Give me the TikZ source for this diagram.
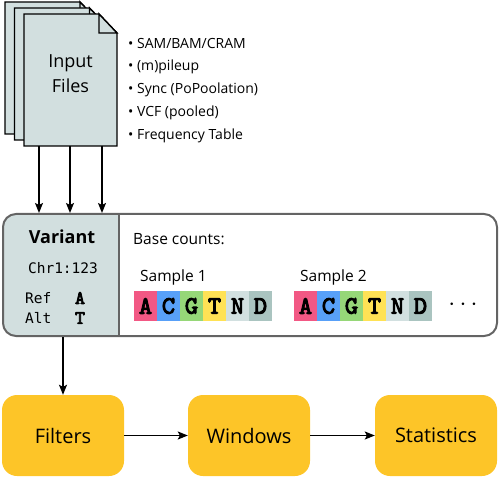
\documentclass[tikz,border=0pt]{standalone}
\usepackage{fontspec}
\setmainfont{Open Sans}
\setmonofont{DejaVu Sans Mono}
\newfontfamily\slabmono{lmmono10-regular.otf}[FakeBold=4]
\usetikzlibrary{arrows.meta}
\definecolor{pagefill}{RGB}{210,223,223}
\definecolor{boxedge}{RGB}{100,100,100}
\definecolor{goldbox}{RGB}{253,197,40}
\definecolor{cA}{RGB}{242,88,132}
\definecolor{cC}{RGB}{88,160,248}
\definecolor{cG}{RGB}{150,215,120}
\definecolor{cT}{RGB}{255,226,85}
\definecolor{cN}{RGB}{210,224,224}
\definecolor{cD}{RGB}{170,196,192}
\begin{document}
\begin{tikzpicture}[x=1pt,y=-1pt,
  pageshape/.style={draw=black,line width=1.4pt,fill=pagefill,line join=miter},
  arr/.style={line width=1.3pt,-{Stealth[length=10pt,width=8pt,inset=2pt]}},
  stage/.style={fill=goldbox,rounded corners=15pt,minimum width=122pt,minimum height=81pt,inner sep=0pt,font=\fontsize{20}{22}\selectfont},
  bullet/.style={anchor=west,inner sep=0pt,font=\fontsize{14}{15}\selectfont},
  cell/.style={minimum width=23pt,minimum height=30pt,inner sep=0pt,font=\slabmono\fontsize{25}{25}\selectfont},
  mono/.style={inner sep=0pt,font=\ttfamily\fontsize{14.5}{16}\selectfont}
]
\useasboundingbox (0,0) rectangle (500,478);
% stacked pages
\foreach \ox/\oy in {5/2,14.5/8,24/14}{
  \path[pageshape] (\ox,\oy) -- ++(75,0) -- ++(18,19) -- ++(0,113) -- ++(-93,0) -- cycle;
  \path[pageshape] (\ox+75,\oy) -- ++(0,19) -- ++(18,0) -- cycle;
}
\node[align=center,inner sep=0pt,font=\fontsize{18}{25}\selectfont] (files) at (70.5,74) {Input\\Files};
\coordinate (f1) at (39,146);
\coordinate (f2) at (70,146);
\coordinate (f3) at (102,146);
% bullets
\node[bullet] (b1) at (128,44) {• SAM/BAM/CRAM};
\node[bullet] (b2) at (128,67) {• (m)pileup};
\node[bullet] (b3) at (128,90) {• Sync (PoPoolation)};
\node[bullet] (b4) at (128,113) {• VCF (pooled)};
\node[bullet] (b5) at (128,136) {• Frequency Table};
% variant box
\begin{scope}
  \clip (0,210) rectangle (119,340);
  \fill[pagefill,rounded corners=13pt] (3,214) rectangle (497,336);
\end{scope}
\node[draw=boxedge,line width=2pt,rounded corners=13pt,minimum width=494pt,minimum height=122pt,inner sep=0pt] (variant) at (250,275) {};
\draw[boxedge,line width=2pt] (119,214) -- (119,336);
\node[font=\bfseries\fontsize{18}{20}\selectfont,inner sep=0pt] (vtitle) at (62,237) {Variant};
\node[mono] (chr) at (63,268) {Chr1:123};
\node[mono,anchor=west] (ref) at (25,298) {Ref};
\node[mono,anchor=west] (alt) at (25,318) {Alt};
\node[inner sep=0pt,font=\slabmono\fontsize{19}{19}\selectfont] (refA) at (80,298) {A};
\node[inner sep=0pt,font=\slabmono\fontsize{19}{19}\selectfont] (altT) at (80,318) {T};
\node[anchor=west,inner sep=0pt,font=\fontsize{15.5}{18}\selectfont] (bc) at (133,239) {Base counts:};
\node[anchor=west,inner sep=0pt,font=\fontsize{15.5}{18}\selectfont] (s1) at (140,277) {Sample 1};
\node[anchor=west,inner sep=0pt,font=\fontsize{15.5}{18}\selectfont] (s2) at (300,277) {Sample 2};
\foreach \sx/\sn in {134/a,294/b}{
  \foreach \L/\C [count=\i from 0] in {A/cA,C/cC,G/cG,T/cT,N/cN,D/cD}{
    \node[cell,fill=\C] (\sn\L) at (\sx+11.5+23*\i,306) {\L};
  }
}
\node[inner sep=0pt,font=\fontsize{25}{25}\selectfont] (dots) at (463,305) {$\cdots$};
% stages
\node[stage] (filters) at (63,435.5) {Filters};
\node[stage] (windows) at (249,435.5) {Windows};
\node[stage] (stats) at (436,435.5) {Statistics};
% arrows
\foreach \f in {f1,f2,f3}{\draw[arr] (\f) -- (\f |- variant.north);}
\draw[arr] (variant.south -| filters) -- (filters.north);
\draw[arr] (filters) -- (windows);
\draw[arr] (windows) -- (stats);
\end{tikzpicture}
\end{document}
